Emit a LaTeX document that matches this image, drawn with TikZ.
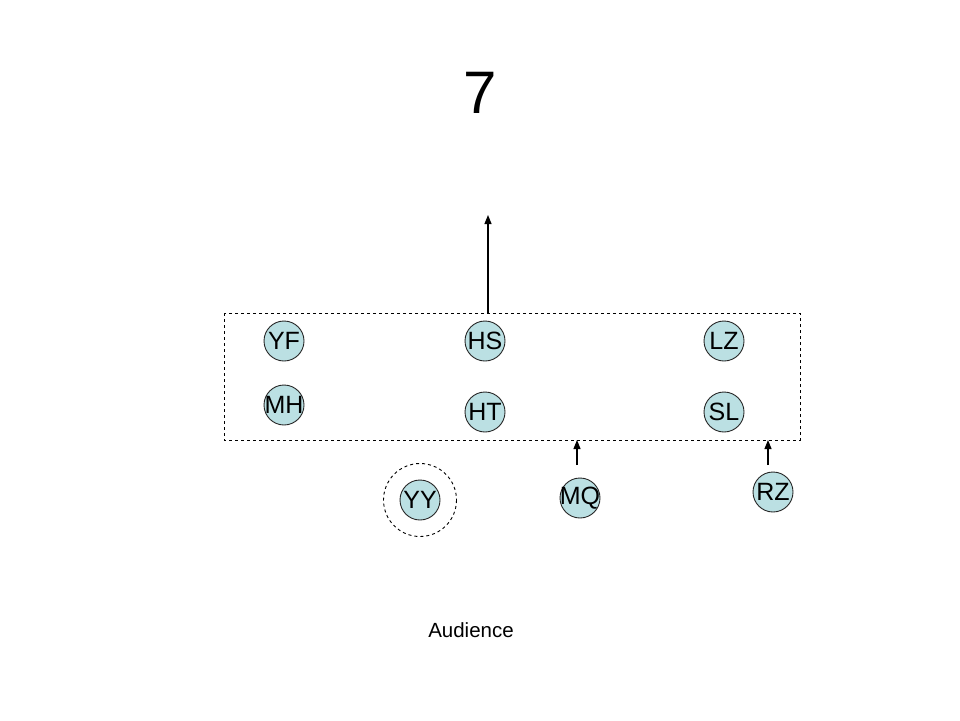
\documentclass[tikz,border=0pt]{standalone}
\usepackage{fontspec}
\setmainfont{Liberation Sans}
\usetikzlibrary{arrows.meta}
\definecolor{seat}{RGB}{187,224,227}
\tikzset{
  person/.style={circle, draw=black!85, line width=0.9pt, fill=seat, minimum size=40pt, inner sep=-5pt, font=\fontsize{25}{25}\selectfont},
  move/.style={line width=1.1pt, -{Triangle[length=9pt,width=7pt]}}
}
\begin{document}
\begin{tikzpicture}[x=1pt, y=-1pt]

    % Page frame
    \useasboundingbox (0,0) rectangle (960,720);

    % Title
    \node (title) at (480,93) {\fontsize{60}{60}\selectfont 7};

    % Stage (dashed box)
    \draw[dashed, line width=0.9pt] (224,313) rectangle (800,440);
    \coordinate (stagetop) at (488,313);
    \coordinate (exit) at (488,215);
    \coordinate (mqin) at (577,440);
    \coordinate (rzin) at (768,440);

    % People on the stage
    \node[person] (YF) at (284,341) {YF};
    \node[person] (MH) at (284,405) {MH};
    \node[person] (HS) at (485,341) {HS};
    \node[person] (HT) at (485,412) {HT};
    \node[person] (LZ) at (724,341) {LZ};
    \node[person] (SL) at (724,412) {SL};

    % People below the stage
    \node[person] (YY) at (420,500) {YY};
    \node[person] (MQ) at (580,498) {MQ};
    \node[person] (RZ) at (773,492) {RZ};

    % Dashed ring round YY
    \draw[dashed, line width=0.9pt] (YY) circle (36.5);

    % Arrows
    \draw[move] (stagetop) -- (exit);
    \coordinate (mqout) at (577,465);
    \coordinate (rzout) at (768,465);
    \draw[move] (mqout) -- (mqin);
    \draw[move] (rzout) -- (rzin);

    % Audience label
    \node (audience) at (471,630) {\fontsize{20.5}{20.5}\selectfont Audience};

\end{tikzpicture}
\end{document}
